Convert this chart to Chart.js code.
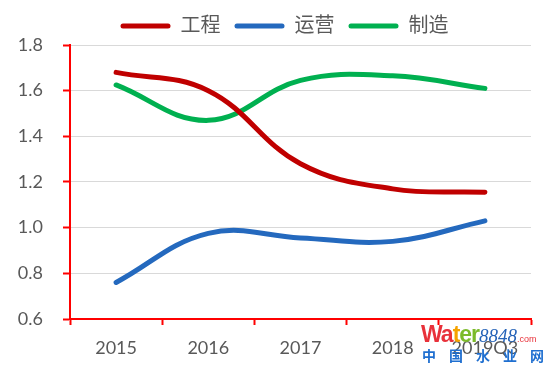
<!DOCTYPE html>
<html>
<head>
<meta charset="utf-8">
<script src="https://cdn.jsdelivr.net/npm/chart.js@4"></script>
<style>
  html, body { margin: 0; padding: 0; background: #fff; }
  #wrap { position: relative; width: 550px; height: 369px; }
  .wm { position: absolute; white-space: nowrap; line-height: 1; }
</style>
</head>
<body>
<div id="wrap">
  <canvas id="chart-ratio" width="550" height="369"></canvas>
  <div class="wm" style="left:421px;top:321px;font:bold 23px 'Liberation Sans',sans-serif;letter-spacing:-1px">
    <span style="color:#e8313a">W</span><span style="color:#e8313a">a</span><span style="color:#f5a300">t</span><span style="color:#7cbb2b">er</span><span style="color:#2563b8;font:italic 19px 'Liberation Serif',serif;letter-spacing:0">8848</span><span style="color:#e8313a;font:9px 'Liberation Sans',sans-serif;letter-spacing:0">.com</span>
  </div>
  <div class="wm" style="left:422px;top:345px;font:bold 14px 'Noto Sans CJK SC',sans-serif;color:#1f6fd0;letter-spacing:13px">中国水业网</div>
</div>
<script>
const years = ['2015', '2016', '2017', '2018', '2019Q3']
const engineering = [1.68, 1.60, 1.28, 1.17, 1.155]
const operation = [0.76, 0.975, 0.955, 0.94, 1.03]
const manufacturing = [1.625, 1.47, 1.645, 1.665, 1.61]

const font = 'Lato, "Noto Sans CJK SC", sans-serif'
const textColor = '#595959'

const line = (label, color, data) => ({
  label,
  data,
  borderColor: color,
  backgroundColor: color,
  borderWidth: 5,
  borderCapStyle: 'round',
  pointRadius: 0,
  tension: 0.4,
  fill: false
})

// legend in the original sits a bit right of the canvas centre
const legendShift = {
  id: 'legendShift',
  afterLayout(chart) {
    chart.legend.left += 19
    chart.legend.right += 19
    chart.legend.top += 1
    chart.legend.bottom += 1
  }
}

const ctx = document.getElementById('chart-ratio').getContext('2d')
new Chart(ctx, {
  type: 'line',
  data: {
    labels: years,
    datasets: [
      line('工程', '#C00000', engineering),
      line('运营', '#2469BE', operation),
      line('制造', '#00B050', manufacturing)
    ]
  },
  plugins: [legendShift],
  options: {
    responsive: false,
    animation: false,
    layout: { padding: { top: 1, left: 0, right: 19, bottom: 0 } },
    plugins: {
      tooltip: { enabled: false },
      legend: {
        position: 'top',
        labels: {
          boxWidth: 50,
          boxHeight: 5,
          useBorderRadius: true,
          borderRadius: 2.5,
          padding: 14,
          color: textColor,
          font: { family: font, size: 20 },
          // no stroke round the swatch, so it stays as thin as the line
          generateLabels: chart =>
            Chart.defaults.plugins.legend.labels.generateLabels(chart)
              .map(l => ({ ...l, lineWidth: 0 }))
        }
      }
    },
    scales: {
      x: {
        offset: true,
        afterFit: s => { s.height = 50 },
        grid: {
          offset: true,
          drawOnChartArea: false,
          tickColor: '#FF0000',
          tickLength: 6,
          tickWidth: 2
        },
        border: { color: '#FF0000', width: 2 },
        ticks: { color: textColor, padding: 12, font: { family: font, size: 18 } }
      },
      y: {
        min: 0.6,
        max: 1.8,
        afterFit: s => { s.width = 70 },
        grid: {
          color: '#D9D9D9',
          tickColor: '#FF0000',
          tickLength: 7,
          tickWidth: 2
        },
        border: { color: '#FF0000', width: 2 },
        ticks: {
          stepSize: 0.2,
          color: textColor,
          padding: 20,
          font: { family: font, size: 18 },
          callback: v => Number(v).toFixed(1)
        }
      }
    }
  }
})
</script>
</body>
</html>
